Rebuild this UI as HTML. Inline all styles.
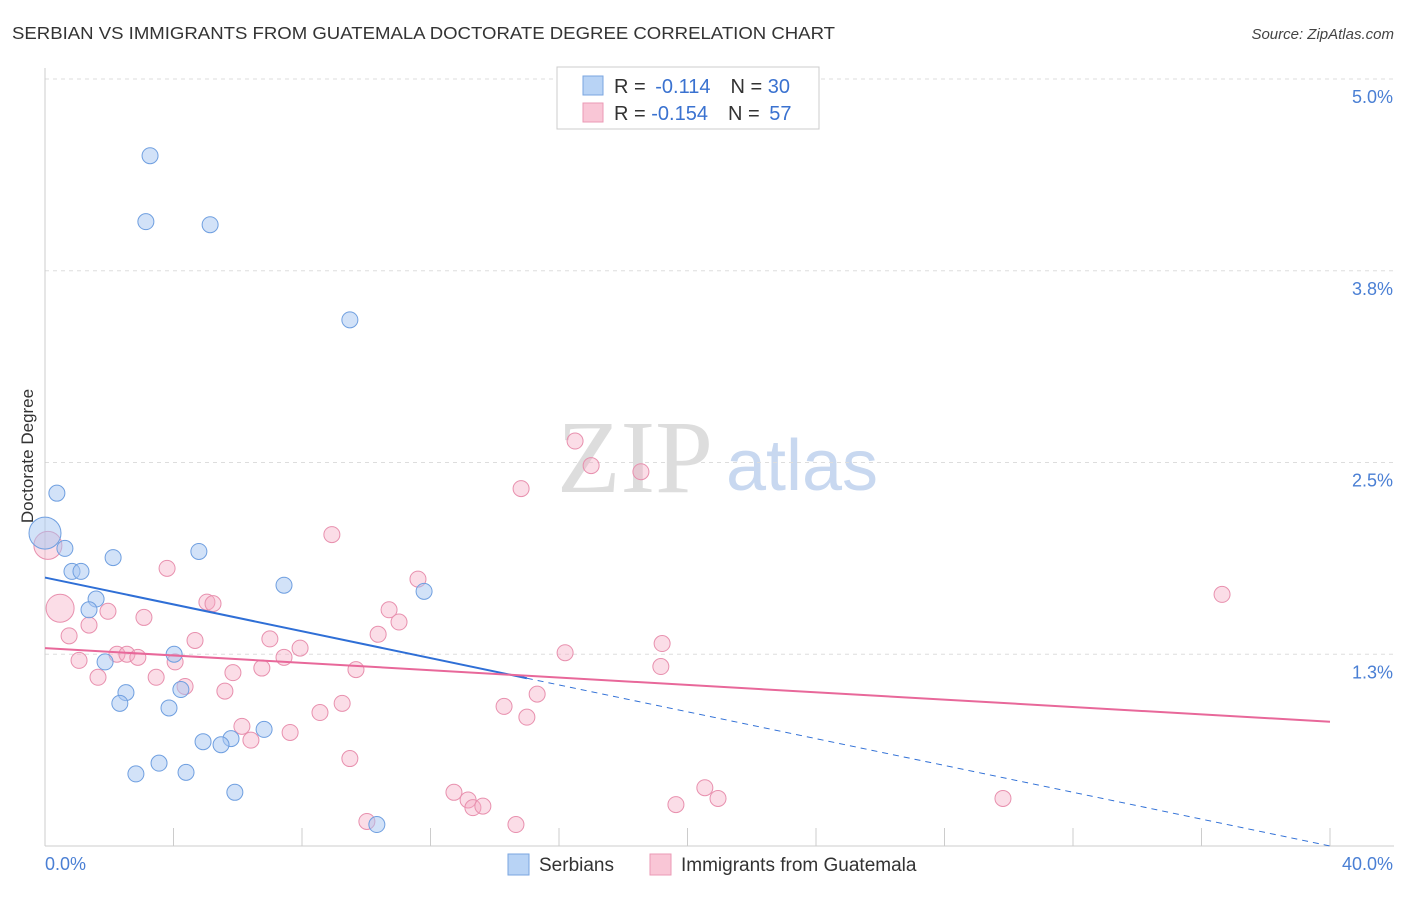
<!DOCTYPE html>
<html><head><meta charset="utf-8"><style>
body{margin:0;background:#fff;font-family:"Liberation Sans",sans-serif;}
</style></head><body>
<svg width="1406" height="892" xmlns="http://www.w3.org/2000/svg" font-family="Liberation Sans, sans-serif">
<text x="12" y="39" font-size="17.5" fill="#333" textLength="823" lengthAdjust="spacingAndGlyphs">SERBIAN VS IMMIGRANTS FROM GUATEMALA DOCTORATE DEGREE CORRELATION CHART</text>
<text x="1394" y="39" font-size="15" fill="#444" text-anchor="end" font-style="italic">Source: ZipAtlas.com</text>
<g>
<text x="635" y="492" font-size="104" fill="#ddd" font-family="Liberation Serif, serif" text-anchor="middle">ZIP</text>
<text x="802" y="490" font-size="72" fill="#c8d8f0" text-anchor="middle">atlas</text>
</g>
<g id="grid"></g>
<g id="axes"></g>
<g id="marks"></g>
<text transform="translate(33,456) rotate(-90)" font-size="17" fill="#333" text-anchor="middle">Doctorate Degree</text>
<text x="45" y="870" font-size="18" fill="#4a7fd4">0.0%</text>
<text x="1393" y="870" font-size="18" fill="#4a7fd4" text-anchor="end">40.0%</text>
<g>
<rect x="557" y="67" width="262" height="62" fill="#fff" stroke="#ccc"/>
<rect x="583" y="76" width="20" height="19" fill="#b8d3f5" stroke="#7aa6e0"/>
<rect x="583" y="103" width="20" height="19" fill="#f9c6d6" stroke="#eb9ab5"/>
<text x="614" y="93" font-size="20" fill="#333">R = <tspan dx="4" fill="#3a72d0">-0.114</tspan><tspan dx="20">N = </tspan><tspan fill="#3a72d0">30</tspan></text>
<text x="614" y="120" font-size="20" fill="#333">R = <tspan fill="#3a72d0">-0.154</tspan><tspan dx="20">N = </tspan><tspan dx="4" fill="#3a72d0">57</tspan></text>
</g>
<g>
<rect x="508" y="854" width="21" height="21" fill="#b8d3f5" stroke="#7aa6e0"/>
<text x="539" y="871" font-size="19" fill="#333">Serbians</text>
<rect x="650" y="854" width="21" height="21" fill="#f9c6d6" stroke="#eb9ab5"/>
<text x="681" y="871" font-size="19" fill="#333">Immigrants from Guatemala</text>
</g>
</svg>
<script>
const yTicks=[5.0,3.75,2.5,1.25];
const yTickLabels=["5.0%","3.8%","2.5%","1.3%"];
const xTicks=[0,4,8,12,16,20,24,28,32,36,40];
const serbX=[3.27,3.14,5.14,9.49,0.37,0,0.62,2.12,4.79,0.84,1.12,7.44,11.80,1.59,1.37,4.02,1.87,2.52,4.23,2.33,3.86,6.82,4.92,5.79,5.48,3.55,2.83,4.39,5.91,10.33];
const serbY=[4.50,4.07,4.05,3.43,2.30,2.04,1.94,1.88,1.92,1.79,1.79,1.70,1.66,1.61,1.54,1.25,1.20,1.00,1.02,0.93,0.90,0.76,0.68,0.70,0.66,0.54,0.47,0.48,0.35,0.14];
const serbBig=[5];
const guatX=[16.50,17.00,18.55,14.82,8.93,0.09,3.80,11.61,0.47,5.04,5.23,1.96,3.08,1.37,10.71,11.02,0.75,4.67,7.00,10.37,19.21,2.24,2.55,2.89,4.05,7.94,7.44,16.19,1.06,5.85,6.75,9.68,19.17,3.46,1.65,4.36,5.60,15.32,9.25,8.56,14.29,15.00,6.13,7.63,6.41,9.49,36.64,20.54,20.95,12.73,13.17,13.32,13.63,19.64,29.82,10.02,14.66];
const guatY=[2.64,2.48,2.44,2.33,2.03,1.96,1.81,1.74,1.55,1.59,1.58,1.53,1.49,1.44,1.54,1.46,1.37,1.34,1.35,1.38,1.32,1.25,1.25,1.23,1.20,1.29,1.23,1.26,1.21,1.13,1.16,1.15,1.17,1.10,1.10,1.04,1.01,0.99,0.93,0.87,0.91,0.84,0.78,0.74,0.69,0.57,1.64,0.38,0.31,0.35,0.30,0.25,0.26,0.27,0.31,0.16,0.14];
const guatBig=[5,8];
const serbTrend=[1.75,0.0];
const guatTrend=[1.29,0.81];
const serbSolidEnd=15.0;
const NS="http://www.w3.org/2000/svg";
const X=v=>45+v/40*1285;
const Y=v=>846-v*153.4;
function mk(tag,attrs,parent){const e=document.createElementNS(NS,tag);for(const k in attrs)e.setAttribute(k,attrs[k]);parent.appendChild(e);return e;}
const grid=document.getElementById('grid'),axes=document.getElementById('axes'),marks=document.getElementById('marks');
yTicks.forEach((t,i)=>{
 const l=mk('line',{x1:45,x2:1394,y1:Y(t),y2:Y(t),stroke:'#ddd','stroke-dasharray':'4,4'},grid);
 
 
 const tx=mk('text',{x:1393,y:Y(t)+24,'font-size':18,fill:'#4a7fd4','text-anchor':'end'},axes);
 tx.textContent=yTickLabels[i];
 
 
});
const xa=mk('line',{x1:45,x2:1394,y1:846,y2:846,stroke:'#ccc'},axes);


const ya=mk('line',{x1:45,x2:45,y1:68,y2:846,stroke:'#ccc'},axes);


xTicks.forEach(t=>{
 const l=mk('line',{x1:X(t),x2:X(t),y1:828,y2:846,stroke:'#ccc'},axes);
 
 
});
guatX.forEach((x,i)=>{
 const c=mk('circle',{cx:X(x),cy:Y(guatY[i]),r:guatBig.includes(i)?14:8,fill:'rgba(245,170,195,0.4)',stroke:'#e890ae','stroke-width':1},marks);
 
 
});
serbX.forEach((x,i)=>{
 const c=mk('circle',{cx:X(x),cy:Y(serbY[i]),r:serbBig.includes(i)?16:8,fill:'rgba(165,198,242,0.5)',stroke:'#6f9fe0','stroke-width':1},marks);
 
 
});
const sy=x=>serbTrend[0]+(serbTrend[1]-serbTrend[0])*x/40;
const t1=mk('line',{x1:X(0),y1:Y(serbTrend[0]),x2:X(serbSolidEnd),y2:Y(sy(serbSolidEnd)),stroke:'#2f6fd6','stroke-width':2},marks);


const t2=mk('line',{x1:X(serbSolidEnd),y1:Y(sy(serbSolidEnd)),x2:X(40),y2:Y(serbTrend[1]),stroke:'#2f6fd6','stroke-width':1,'stroke-dasharray':'6,5'},marks);


const t3=mk('line',{x1:X(0),y1:Y(guatTrend[0]),x2:X(40),y2:Y(guatTrend[1]),stroke:'#e8689a','stroke-width':2},marks);


</script>
</body></html>
